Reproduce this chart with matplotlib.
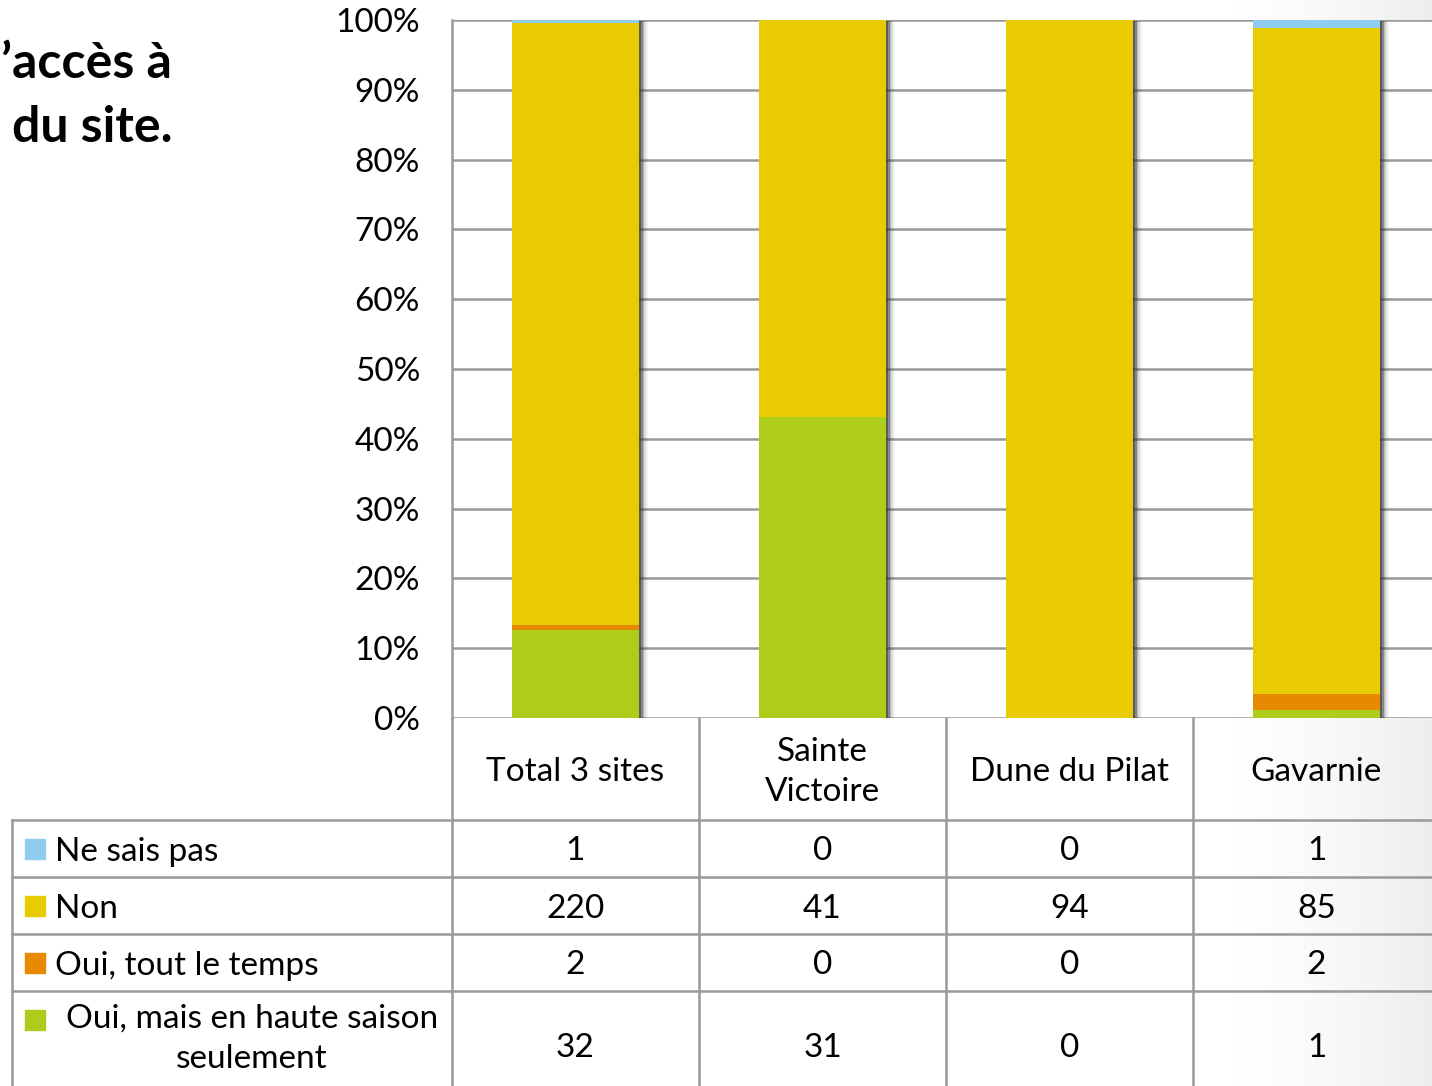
import numpy as np
import matplotlib.pyplot as plt
import matplotlib.patheffects as pe

plt.rcParams['font.family'] = ['Lato', 'DejaVu Sans']

sites = ['Total 3 sites', 'Sainte\nVictoire', 'Dune du Pilat', 'Gavarnie']
answers = ['Ne sais pas', 'Non', 'Oui, tout le temps', 'Oui, mais en haute saison\nseulement']
ne_sais_pas = [1, 0, 0, 1]
non = [220, 41, 94, 85]
oui_tout = [2, 0, 0, 2]
oui_haute = [32, 31, 0, 1]
colors = ['#8ECDF0', '#E8CB00', '#E88A00', '#AECD1A']

W, H = 1432, 1086
fig = plt.figure(figsize=(W / 100, H / 100), dpi=100)
fs = 24

# light grey shading at the right edge (slide background)
bg = fig.add_axes([0, 0, 1, 1], zorder=-10)
grad = np.clip((np.linspace(0, 1, 400) - 0.85) / 0.15, 0, 1) ** 1.5
bg.imshow(grad[None, :], cmap='Greys', vmin=0, vmax=7, aspect='auto', extent=[0, 1, 0, 1])
bg.axis('off')

# plot area in pixels
x0, y0, y100 = 452, 718, 20
colw = 247
ax = fig.add_axes([x0 / W, 1 - y0 / H, 4 * colw / W, (y0 - y100) / H])

series = [oui_haute, oui_tout, non, ne_sais_pas]
scol = [colors[3], colors[2], colors[1], colors[0]]
totals = np.sum([ne_sais_pas, non, oui_tout, oui_haute], axis=0)
x = np.arange(len(sites))
bottom = np.zeros(len(sites))
for vals, c in zip(series, scol):
    frac = np.array(vals) / totals
    ax.bar(x, frac, 0.515, bottom=bottom, color=c, zorder=3)
    bottom += frac
# soft shadow on the right of each stack
for i in range(len(sites)):
    for k, a in enumerate([0.5, 0.35, 0.22, 0.12, 0.06]):
        ax.bar(x[i], bottom[i], 0.515, color='none', zorder=2.5,
               path_effects=[pe.SimplePatchShadow(offset=(1.2 + 1.3 * k, -1), shadow_rgbFace='#333333', alpha=a)])

ax.set_xlim(-0.5, 3.5)
ax.set_ylim(0, 1)
ax.set_yticks(np.arange(0, 1.01, 0.1))
ax.set_yticklabels([f'{int(round(v * 100))}%' for v in np.arange(0, 1.01, 0.1)], fontsize=fs)
ax.tick_params(axis='y', length=0, pad=23)
ax.set_xticks([])
ax.grid(axis='y', color='#999999', linewidth=1.8, zorder=0)
for s in ['top', 'right', 'bottom']:
    ax.spines[s].set_visible(False)
ax.spines['left'].set_color('#999999')
ax.spines['left'].set_linewidth(1.8)
ax.set_axisbelow(True)

# data table below the plot, y measured in pixels from the x axis
tb = fig.add_axes([x0 / W, 0, 4 * colw / W, (H - y0) / H])
tb.set_xlim(-0.5, 3.5)
tb.set_ylim(H - y0, 0)
tb.axis('off')
lc = '#999999'
lw = 1.8
rows = [0, 102, 159, 216, 273, 381]
left = -0.5 - (x0 - 12) / colw
for r in rows[1:5]:
    tb.plot([left, 3.6], [r, r], color=lc, lw=lw, clip_on=False)
tb.plot([left, left], [rows[1], rows[-1]], color=lc, lw=lw, clip_on=False)
for k in range(5):
    tb.plot([k - 0.5, k - 0.5], [0, rows[-1]], color=lc, lw=lw, clip_on=False)

for i, s in enumerate(sites):
    tb.text(x[i], (rows[0] + rows[1]) / 2 + 3, s, ha='center', va='center', fontsize=fs, linespacing=1.45)

table_vals = [ne_sais_pas, non, oui_tout, oui_haute]
key_x = left + 13 / colw
for j, (lab, vals, c) in enumerate(zip(answers, table_vals, colors)):
    top = rows[j + 1]
    bot = rows[j + 2]
    tb.add_patch(plt.Rectangle((key_x, top + 19), 20 / colw, 20, color=c, clip_on=False))
    if '\n' in lab:
        tb.text(left + 240 / colw, top + 13, lab, ha='center', va='top', fontsize=fs,
                multialignment='center', linespacing=1.42)
    else:
        tb.text(left + 43 / colw, top + 32, lab, ha='left', va='center', fontsize=fs)
    for i, v in enumerate(vals):
        tb.text(x[i], (top + bot) / 2 + 3, str(v), ha='center', va='center', fontsize=fs)

fig.text(172 / W, 1 - 63 / H, '\u2019accès à', ha='right', va='center', fontsize=36, fontweight='bold')
fig.text(172 / W, 1 - 127 / H, 'du site.', ha='right', va='center', fontsize=36, fontweight='bold')

fig.savefig('out.png', dpi=100)
